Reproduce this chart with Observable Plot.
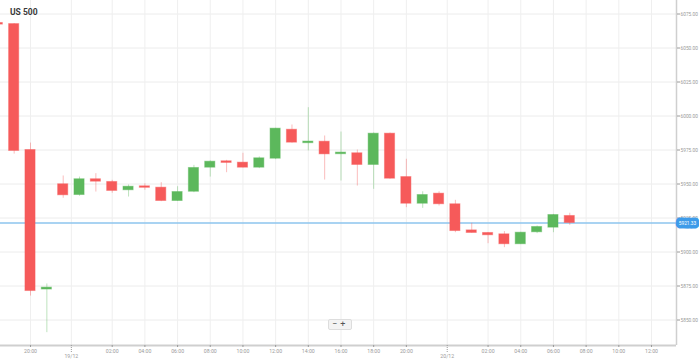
<!DOCTYPE html>
<html><head><meta charset="utf-8">
<script src="https://cdn.jsdelivr.net/npm/d3@7"></script>
<script src="https://cdn.jsdelivr.net/npm/@observablehq/plot@0.6"></script>
<style>
body{margin:0;background:#fff;font-family:Roboto,"Noto Sans",sans-serif;}
#wrap{position:relative;width:699px;height:362px;}
#title{position:absolute;left:10px;top:7px;font-size:8.5px;font-weight:bold;color:#3a3a3a;font-family:Roboto,sans-serif;}
#zoom{position:absolute;left:328px;top:319px;font-size:9px;line-height:9px;color:#555;background:#f3f3f3;border:1px solid #ddd;border-radius:2px;padding:0 3px;letter-spacing:3px;}
#wrap svg{position:absolute;left:0;top:0;}
</style></head><body>
<div id="wrap"><div id="title">US 500</div><div id="zoom">−+</div></div>
<script>
// hourly slots (market skips 22:00)
const slots = ["18:00","19:00","20:00","21:00","23:00",
  "00:00","01:00","02:00","03:00","04:00","05:00","06:00","07:00","08:00","09:00","10:00","11:00",
  "12:00","13:00","14:00","15:00","16:00","17:00","18:00","19:00","20:00","21:00","23:00",
  "00:00","01:00","02:00","03:00","04:00","05:00","06:00","07:00","08:00","09:00","10:00","11:00","12:00"];
const dateLabels = ["19/12","20/12"];
const opens  = [6068.4,6067.6,5975.0,5872.4,5949.8,5941.9,5953.5,5951.5,5945.4,5948.3,5947.3,5937.5,5944.3,5962.0,5966.7,5965.7,5962.0,5968.6,5989.9,5980.0,5981.1,5971.9,5972.6,5964.0,5987.0,5955.1,5935.5,5942.9,5935.1,5915.9,5914.0,5913.0,5905.7,5914.5,5917.9,5926.5];
const highs  = [6069.5,6068.0,5980.1,5876.5,5955.9,5955.1,5957.6,5952.7,5949.3,5950.2,5951.0,5948.0,5963.7,5967.0,5967.4,5972.6,5969.9,5991.0,5993.4,6006.1,5985.3,5988.2,5975.0,5987.5,5987.5,5968.2,5944.3,5944.3,5938.0,5921.1,5914.3,5915.0,5914.5,5919.1,5927.7,5928.5];
const lows   = [6066.5,5972.0,5867.6,5840.7,5939.5,5941.0,5944.1,5943.2,5940.4,5945.4,5937.0,5937.2,5943.6,5955.1,5958.3,5961.8,5961.3,5967.9,5980.0,5974.3,5952.9,5952.2,5948.5,5946.1,5953.5,5932.6,5932.1,5933.8,5914.2,5913.8,5906.1,5903.2,5905.5,5913.5,5914.2,5919.6];
const closes = [6067.2,5974.3,5871.3,5873.8,5941.7,5953.5,5951.7,5944.9,5948.0,5947.2,5937.5,5944.1,5961.8,5966.4,5965.5,5962.0,5968.9,5990.7,5980.4,5981.2,5971.8,5973.1,5964.0,5987.0,5953.9,5935.5,5941.9,5935.1,5915.4,5914.0,5912.3,5905.7,5914.2,5918.4,5927.2,5921.33];
const yTicks = [5850,5875,5900,5925,5950,5975,6000,6025,6050,6075];

const RED = "#f65a5a", GREEN = "#5cb85c";
const data = opens.map((o,i)=>({p:i, o, h:highs[i], l:lows[i], c:closes[i], col: closes[i]>=o ? GREEN : RED}));
const last = data[data.length-1];

const xDom = [0.164, 41.53], yDom = [5831.25, 6084.93];
const inDom = t => t >= xDom[0] && t <= xDom[1];

const hourTicks = [], dateTicks = [], dateMap = new Map();
let di = 0;
slots.forEach((s,i)=>{
  if (s === "00:00") { const t = i - 0.5; dateTicks.push(t); dateMap.set(t, dateLabels[di++]); }
  else if (+s.slice(0,2) % 2 === 0 && inDom(i)) hourTicks.push(i);
});

const axisColor = "#9a9a9a";

const chart = Plot.plot({
  width: 699, height: 362,
  marginLeft: 0, marginRight: 23, marginTop: 0, marginBottom: 17,
  style: {fontFamily: "Roboto, sans-serif", background: "transparent"},
  x: {type: "linear", domain: xDom, axis: null},
  y: {domain: yDom, axis: null},
  color: {type: "identity"},
  marks: [
    Plot.gridY({ticks: yTicks, stroke: "#ececec", strokeOpacity: 1}),
    Plot.gridX({ticks: hourTicks.concat(dateTicks), stroke: "#efefef", strokeOpacity: 1}),
    Plot.ruleY([last.c], {stroke: "#8cc4ee", strokeWidth: 1.6}),
    Plot.ruleX(data, {x: "p", y1: "l", y2: "h", stroke: "col", strokeOpacity: 0.4, strokeWidth: 1, clip: true}),
    Plot.rect(data, {x1: d => d.p - 0.31, x2: d => d.p + 0.31, y1: "o", y2: "c", fill: "col", stroke: "col", strokeOpacity: 0.45, strokeWidth: 1, clip: true}),
    Plot.ruleY([yDom[0]], {stroke: "#cfcfcf", strokeWidth: 2}),
    Plot.ruleX([xDom[1]], {stroke: "#cfcfcf", strokeWidth: 1.5}),
    Plot.axisY({anchor: "right", label: null, ticks: yTicks, tickFormat: d => d.toFixed(2), tickSize: 3, tickPadding: 1, fontSize: 4.8, color: axisColor}),
    Plot.axisX({anchor: "bottom", label: null, ticks: hourTicks, tickFormat: p => slots[p], tickSize: 2, tickPadding: 2, fontSize: 5.2, color: axisColor}),
    Plot.axisX({anchor: "bottom", label: null, ticks: dateTicks, tickFormat: t => dateMap.get(t), tickSize: 7, tickPadding: 2, fontSize: 5.2, color: axisColor, strokeDasharray: "1,1"}),
    Plot.text([last], {x: () => xDom[1], y: "c", text: d => d.c.toFixed(2), dx: 11, fill: "white", stroke: "#3d9be9", strokeWidth: 7, strokeLinejoin: "round", fontSize: 4.8, textAnchor: "middle", clip: false})
  ]
});
document.getElementById("wrap").prepend(chart);
</script></body></html>
